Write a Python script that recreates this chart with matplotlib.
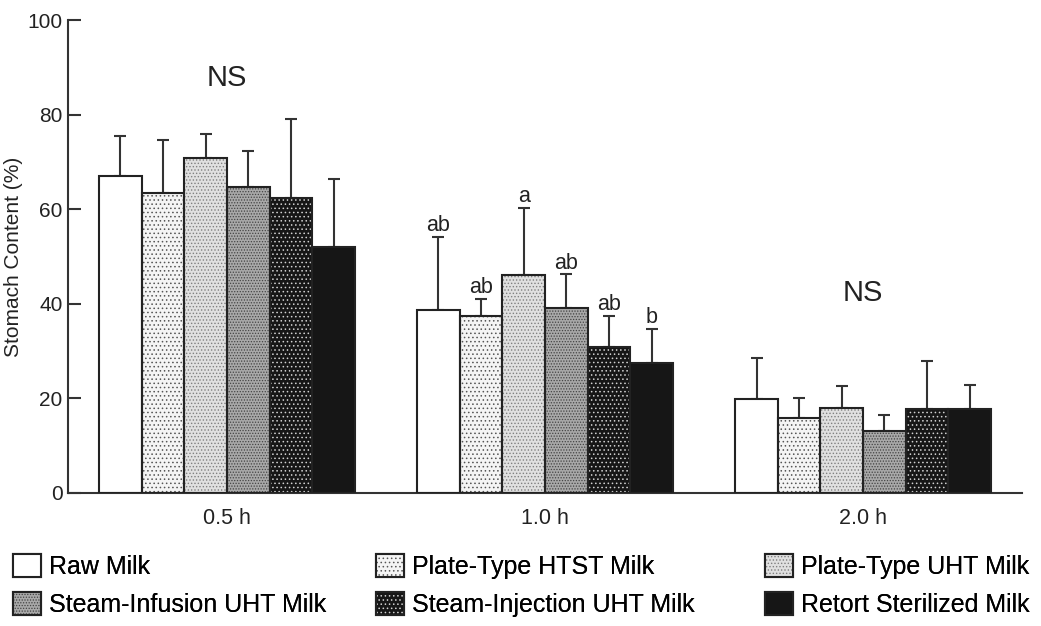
import matplotlib
matplotlib.use('Agg')
import matplotlib.pyplot as plt
import numpy as np

# Arial look-alike
matplotlib.rcParams['font.family'] = 'Liberation Sans'
matplotlib.rcParams['hatch.linewidth'] = 0.6

# Data (mean and upper SD), % stomach content
times = ['0.5 h', '1.0 h', '2.0 h']
milks = ['Raw Milk', 'Plate-Type HTST Milk', 'Plate-Type UHT Milk',
         'Steam-Infusion UHT Milk', 'Steam-Injection UHT Milk', 'Retort Sterilized Milk']

mean_05h = [67.1, 63.4, 70.8, 64.8, 62.4, 52.0]
sd_05h = [8.4, 11.3, 5.2, 7.6, 16.7, 14.4]
mean_10h = [38.7, 37.5, 46.0, 39.2, 30.8, 27.5]
sd_10h = [15.5, 3.5, 14.3, 7.0, 6.7, 7.2]
mean_20h = [19.8, 15.8, 18.0, 13.1, 17.8, 17.8]
sd_20h = [8.7, 4.3, 4.6, 3.4, 10.2, 5.0]

letters_10h = ['ab', 'ab', 'a', 'ab', 'ab', 'b']
ns_label_y = [87.7, None, 42.3]   # "NS" placement per time point

means = np.array([mean_05h, mean_10h, mean_20h])
sds = np.array([sd_05h, sd_10h, sd_20h])

# fill, hatch, hatch colour for each milk
styles = [
    ('white', '', 'white'),
    ('#f4f4f4', '....', '#555555'),
    ('#e0e0e0', '.....', '#808080'),
    ('#a8a8a8', '......', '#444444'),
    ('#161616', '....', '#d0d0d0'),
    ('#161616', '', '#161616'),
]

fig = plt.figure(figsize=(10.41, 6.26), dpi=100)
ax = fig.add_axes([0.0653, 0.2125, 0.9165, 0.7555])

x = np.arange(len(times))
w = 0.134
handles = []
for i, (fc, hatch, hc) in enumerate(styles):
    xs = x + (i - 2.5) * w
    b1 = ax.bar(xs, means[:, i], w, color=fc, edgecolor=hc, hatch=hatch, linewidth=0, zorder=2)
    b2 = ax.bar(xs, means[:, i], w, fill=False, edgecolor='#222222', linewidth=1.5, zorder=3)
    ax.errorbar(xs, means[:, i], yerr=[np.zeros(3), sds[:, i]], fmt='none',
                ecolor='#333333', elinewidth=1.5, capsize=4.3, capthick=1.5, zorder=1)
    handles.append((b1[0], b2[0]))
    # significance letters for 1.0 h
    ax.annotate(letters_10h[i], (xs[1], means[1, i] + sds[1, i]), textcoords='offset points',
                xytext=(0, 0.5), ha='center', va='bottom', fontsize=15.5, color='#222222')

for j, y in enumerate(ns_label_y):
    if y is not None:
        ax.text(x[j], y, 'NS', ha='center', va='center', fontsize=21, color='#222222')

ax.set_xlim(-0.5, 2.5)
ax.set_ylim(0, 100)
ax.set_xticks(x)
ax.set_xticklabels(times)
ax.set_yticks([0, 20, 40, 60, 80, 100])
ax.set_ylabel('Stomach Content (%)', fontsize=15, color='#222222', labelpad=3)
for side in ['top', 'right']:
    ax.spines[side].set_visible(False)
for side in ['left', 'bottom']:
    ax.spines[side].set_linewidth(1.5)
    ax.spines[side].set_color('#333333')
ax.tick_params(axis='y', direction='in', length=9, width=1.5, color='#333333',
               labelsize=15, pad=4, labelcolor='#222222')
ax.tick_params(axis='x', length=0, labelsize=15.5, pad=11, labelcolor='#222222')

# legend: three columns of two entries each
col_x = [0.0125, 0.3613, 0.7349]
for c in range(3):
    idx = [c, c + 3]
    leg = fig.legend([handles[k] for k in idx], [milks[k] for k in idx],
                     loc='upper left', bbox_to_anchor=(col_x[c], 0.115), frameon=False,
                     fontsize=18, handlelength=1.12, handleheight=1.05, handletextpad=0.32,
                     labelspacing=0.5, borderaxespad=0, borderpad=0)
    fig.add_artist(leg)

fig.savefig('out.png', dpi=100)
